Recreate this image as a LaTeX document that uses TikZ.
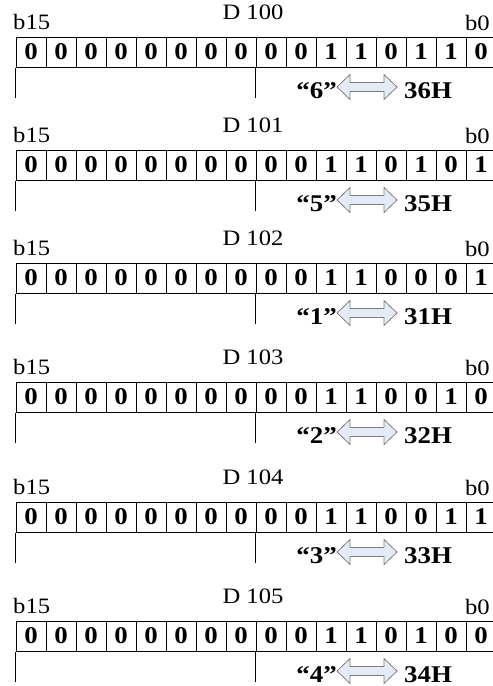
\documentclass[tikz,border=0pt]{standalone}
\usepackage{fontspec}
\setmainfont[FakeStretch=1.12]{Liberation Serif}
\definecolor{arrowfill}{HTML}{E4EBF6}
\definecolor{arrowline}{HTML}{7F7F7F}

\tikzset{
  bitcell/.style={draw, line width=1pt, minimum width=30pt, minimum height=30pt,
    inner sep=0pt, font=\fontsize{24}{24}\selectfont\bfseries},
  reglabel/.style={inner sep=0pt, font=\fontsize{22}{22}\selectfont},
  codetext/.style={inner sep=0pt, font=\fontsize{24}{24}\selectfont\bfseries},
  convarrow/.style={draw=arrowline, fill=arrowfill, line width=0.8pt, line join=miter}
}

\begin{document}
\begin{tikzpicture}[x=1pt,y=-1pt]
        \useasboundingbox (0,0) rectangle (493,686);
        % one register D100 ... D105 per block
        \foreach \k/\top/\bits/\ch in {0/37/{0,0,0,0,0,0,0,0,0,0,1,1,0,1,1,0}/6,
                                       1/150/{0,0,0,0,0,0,0,0,0,0,1,1,0,1,0,1}/5,
                                       2/263/{0,0,0,0,0,0,0,0,0,0,1,1,0,0,0,1}/1,
                                       3/382/{0,0,0,0,0,0,0,0,0,0,1,1,0,0,1,0}/2,
                                       4/502/{0,0,0,0,0,0,0,0,0,0,1,1,0,0,1,1}/3,
                                       5/621/{0,0,0,0,0,0,0,0,0,0,1,1,0,1,0,0}/4}
        {
        \begin{scope}[shift={(0,\top-37)}]
                % labels above the register
                \node[reglabel, anchor=base west] (msb\k) at (13, 29) {b15};
                \node[reglabel, anchor=base] (name\k) at (253, 19) {D 10\k};
                \node[reglabel, anchor=base east] (lsb\k) at (490, 30) {b0};

                % bits b15 ... b0
                \foreach \b [count=\i from 0] in \bits
                        \node[bitcell] (c\k-\i) at (31+30*\i, 52) {\b};

                % brackets under the register
                \draw[line width=0.8pt] (c\k-0.south west) -- ++(0,30);
                \draw[line width=0.8pt] (c\k-8.south west) -- ++(0,30);

                % ASCII code of the character
                \node[codetext, anchor=base east] (chr\k) at (337, 98) {“\ch”};
                \node[codetext, anchor=base west] (hex\k) at (404, 98) {3\ch H};
                \draw[convarrow] (337,87) -- (350,74.5) -- (350,82.5) -- (384,82.5)
                        -- (384,74.5) -- (397,87) -- (384,99.5) -- (384,91.5)
                        -- (350,91.5) -- (350,99.5) -- cycle;
        \end{scope}
        }
\end{tikzpicture}
\end{document}
